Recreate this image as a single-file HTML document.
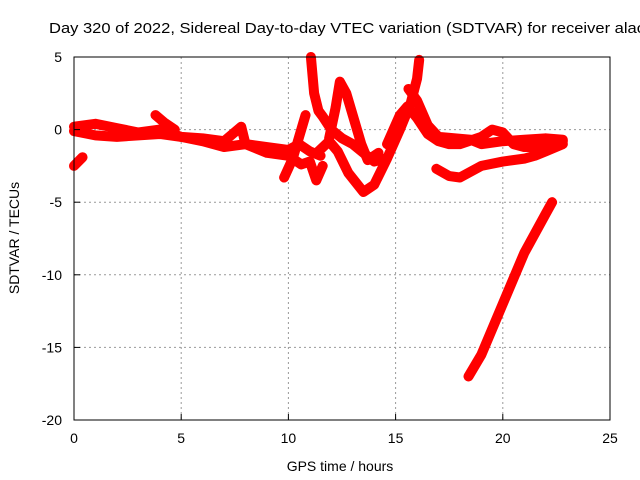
<!DOCTYPE html>
<html><head><meta charset="utf-8"><style>
body{margin:0;background:#fff}
svg{display:block;font-family:"Liberation Sans",sans-serif}
</style></head><body>
<svg id="chart" width="640" height="480" viewBox="0 0 640 480">
<text x="49" y="33" font-size="15" fill="#000" textLength="596" lengthAdjust="spacingAndGlyphs">Day 320 of 2022, Sidereal Day-to-day VTEC variation (SDTVAR) for receiver alac</text>
<g id="grid"></g>
<g id="series"></g>
<rect x="74" y="57" width="536" height="363" fill="none" stroke="#000" stroke-width="1"/>
<g id="ticks"></g>
<text x="340" y="471" font-size="14" text-anchor="middle">GPS time / hours</text>
<text transform="translate(19,238) rotate(-90)" font-size="14" text-anchor="middle">SDTVAR / TECUs</text>
</svg>
<script>
const xTicks=[0,5,10,15,20,25];
const yTicks=[5,0,-5,-10,-15,-20];
const sLowStart=[[0,-2.5],[0.4,-1.9]];
const sUpper=[[0,0.2],[1,0.4],[2,0.1],[3,-0.2],[4,0],[5,-0.5],[6,-0.6],[7,-0.8],[7.8,0.2],[8,-1],[9,-1.2],[10,-1.4],[10.5,-1],[11,-1.5],[11.5,-1.8]];
const sLower=[[0,-0.1],[1,-0.4],[2,-0.5],[3,-0.4],[4,-0.3],[5,-0.5],[6,-0.8],[7,-1.2],[8,-1],[9,-1.6],[10,-1.8],[10.6,-2.4],[11,-2.2],[11.3,-3.5],[11.6,-2.5]];
const sBump=[[3.8,1],[4.2,0.5],[4.7,0]];
const sRise=[[9.8,-3.3],[10.2,-2],[10.5,-0.5],[10.8,1]];
const sSpike1=[[11.05,5],[11.2,2.5],[11.4,1.3],[11.6,0.9],[12,0],[12.5,-0.6],[13,-1],[13.5,-1.6],[14,-2.2],[14.5,-2]];
const sSpike2=[[11.9,-0.6],[12.2,1.5],[12.4,3.3],[12.7,2.5],[13.1,0.5],[13.4,-1],[13.7,-2.1],[14.2,-1.6]];
const sTrough=[[11.4,-1.5],[11.9,-0.8],[12.3,-1.5],[12.8,-3],[13.5,-4.3],[14,-3.8],[14.6,-2],[15.2,0],[15.7,1.8],[16,3.5],[16.1,4.8]];
const sPeak=[[14.6,-1],[15.2,1],[15.55,1.6],[16,0.8],[16.5,-0.3],[17,-0.8],[17.5,-1],[18,-1],[19,-0.5],[19.5,0],[20,-0.2],[20.5,-1],[21,-1.2],[22,-1.2],[22.8,-0.8]];
const sAfter=[[15.6,2.8],[16,2],[16.5,0.3],[17,-0.5],[18.5,-0.7],[19,-1],[20,-0.8],[21,-0.7],[22,-0.6],[22.8,-0.7]];
const sLowBranch=[[16.9,-2.7],[17.5,-3.2],[18,-3.3],[19,-2.5],[20,-2.2],[21,-2],[21.5,-1.8],[22,-1.5],[22.8,-1]];
const sDrop=[[18.4,-17],[19,-15.5],[20,-12],[21,-8.5],[22,-5.8],[22.3,-5]];
const allSeries=[sLowStart,sUpper,sLower,sBump,sRise,sSpike1,sSpike2,sTrough,sPeak,sAfter,sLowBranch,sDrop];
const NS="http://www.w3.org/2000/svg";
const X=h=>74+h*536/25, Y=v=>57+(5-v)*363/25;
const grid=document.getElementById('grid'),ticks=document.getElementById('ticks'),ser=document.getElementById('series');
function mk(tag,attrs,parent){const e=document.createElementNS(NS,tag);for(const k in attrs)e.setAttribute(k,attrs[k]);parent.appendChild(e);return e;}
xTicks.forEach(t=>{
 if(t>0&&t<25){const l=mk('line',{x1:X(t),x2:X(t),y1:57,y2:420,stroke:'#999','stroke-dasharray':'2,3'},grid);
 
 }
 const tk=mk('line',{x1:X(t),x2:X(t),y1:420,y2:414,stroke:'#000'},ticks);
 
 
 const tx=mk('text',{x:X(t),y:443,'font-size':14,'text-anchor':'middle'},ticks);tx.textContent=t;
 
 
});
yTicks.forEach(t=>{
 if(t<5&&t>-20){const l=mk('line',{x1:74,x2:610,y1:Y(t),y2:Y(t),stroke:'#999','stroke-dasharray':'2,3'},grid);
 
 }
 const tk=mk('line',{x1:74,x2:80,y1:Y(t),y2:Y(t),stroke:'#000'},ticks);
 
 
 const tx=mk('text',{x:62,y:Y(t)+5,'font-size':14,'text-anchor':'end'},ticks);tx.textContent=t;
 
 
});
allSeries.forEach(s=>{
 const p=mk('polyline',{points:s.map(d=>X(d[0])+','+Y(d[1])).join(' '),fill:'none',stroke:'#f00','stroke-width':10,'stroke-linejoin':'round','stroke-linecap':'round'},ser);
 
 
});
</script>
</body></html>
